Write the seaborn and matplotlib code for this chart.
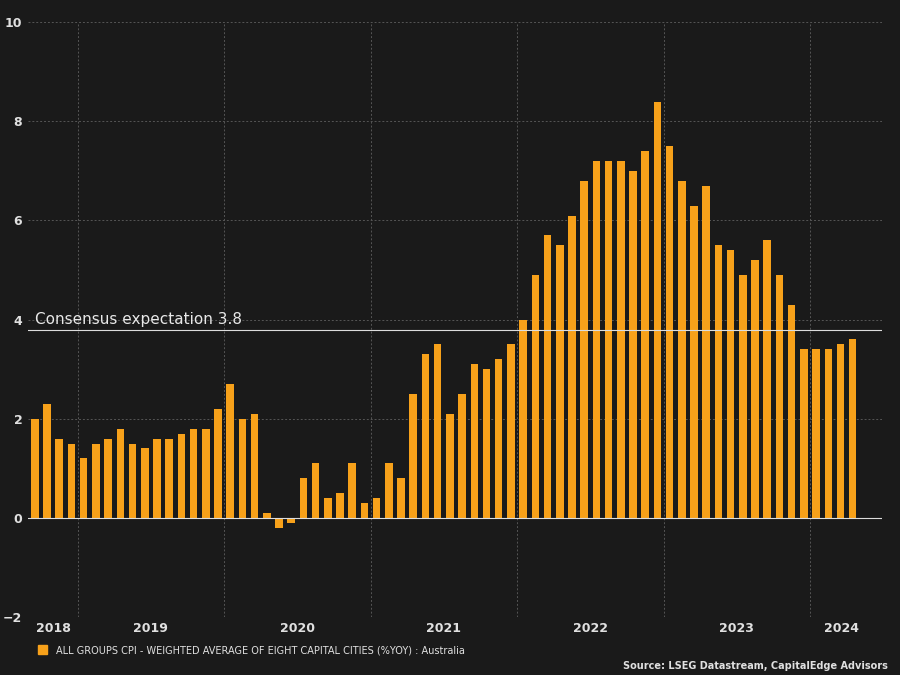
import matplotlib
matplotlib.use("Agg")
import matplotlib.pyplot as plt
import seaborn as sns
import pandas as pd
import numpy as np

values = [2.0,2.3,1.6,1.5,1.2,1.5,1.6,1.8,1.5,1.4,1.6,1.6,1.7,1.8,1.8,2.2,2.7,2.0,2.1,0.1,-0.2,-0.1,
          0.8,1.1,0.4,0.5,1.1,0.3,0.4,1.1,0.8,2.5,3.3,3.5,2.1,2.5,3.1,3.0,3.2,3.5,4.0,4.9,5.7,5.5,6.1,
          6.8,7.2,7.2,7.2,7.0,7.4,8.4,7.5,6.8,6.3,6.7,5.5,5.4,4.9,5.2,5.6,4.9,4.3,3.4,3.4,3.4,3.5,3.6]
year_labels = ["2018","2019","2020","2021","2022","2023","2024"]
year_label_pos = [1.5,9.5,21.5,33.5,45.5,57.5,66.1]
year_starts = [3.5,15.5,27.5,39.5,51.5,63.5]
consensus = 3.8

bg = "#1a1a1a"
df = pd.DataFrame({"x": np.arange(len(values)), "v": values})
fig = plt.figure(figsize=(9, 6.75), dpi=100, facecolor=bg)
ax = fig.add_axes([0.031, 0.086, 0.949, 0.881], facecolor=bg)
sns.barplot(data=df, x="x", y="v", native_scale=True, color="#f7a11a", saturation=1, width=0.62, ax=ax, zorder=3)
ax.set_xlim(-0.57, 69.4)
ax.set_ylim(-2, 10)
ax.set_yticks([-2,0,2,4,6,8,10])
ax.set_xticks(year_label_pos)
ax.set_xticklabels(year_labels)
ax.set_xticks(year_starts, minor=True)
ax.grid(False)
for y in [2,4,6,8,10]:
    ax.axhline(y, color="#555555", lw=0.7, ls=(0,(2,2)), zorder=1)
for x in year_starts:
    ax.axvline(x, color="#555555", lw=0.7, ls=(0,(2,2)), zorder=1)
ax.axhline(0, color="#dddddd", lw=0.8, zorder=4)
ax.axhline(consensus, color="#dddddd", lw=0.8, zorder=4)
ax.text(0, consensus + 0.05, "Consensus expectation 3.8", color="#e8e8e8", fontsize=11, va="bottom")
ax.set_xlabel(""); ax.set_ylabel("")
for s in ax.spines.values():
    s.set_visible(False)
ax.tick_params(axis="both", which="both", length=0, colors="#e0e0e0", labelsize=9)
ax.tick_params(axis="y", pad=4)
for t in ax.get_xticklabels() + ax.get_yticklabels():
    t.set_fontweight("bold")
fig.patches.append(plt.Rectangle((0.042, 0.031), 0.01, 0.013, transform=fig.transFigure, color="#f7a11a"))
fig.text(0.062, 0.037, "ALL GROUPS CPI - WEIGHTED AVERAGE OF EIGHT CAPITAL CITIES (%YOY) : Australia",
         color="#e0e0e0", fontsize=7, va="center")
fig.text(0.987, 0.013, "Source: LSEG Datastream, CapitalEdge Advisors", color="#e0e0e0",
         fontsize=7, fontweight="bold", ha="right", va="center")
fig.savefig("out.png", dpi=100, facecolor=bg)
